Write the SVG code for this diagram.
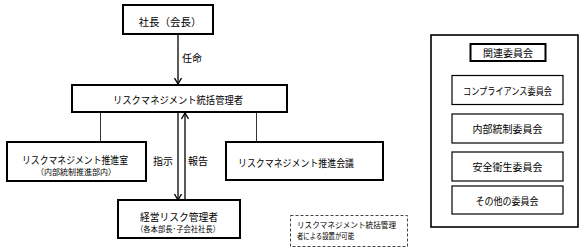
<svg xmlns="http://www.w3.org/2000/svg" width="588" height="250" viewBox="0 0 588 250">
<defs>
<style>
text{font-family:"Noto Sans CJK JP","Noto Sans",sans-serif;fill:#000;text-anchor:middle;dominant-baseline:central;}
.t{font-size:10px;}
.s{font-size:8px;}
.box{fill:#fff;stroke:#000;stroke-width:2;}
.thin{fill:#fff;stroke:#000;stroke-width:1.2;}
.dash{fill:#fff;stroke:#444;stroke-width:1;stroke-dasharray:3,2;}
.ln{stroke:#333;stroke-width:1;fill:none;}
.ar{stroke:#000;stroke-width:1.3;fill:none;marker-end:url(#arr);}
</style>
<marker id="arr" markerUnits="userSpaceOnUse" viewBox="0 0 7 8" refX="6.5" refY="4" markerWidth="7" markerHeight="8" orient="auto">
<path d="M0.5,0.5 L6.5,4 L0.5,7.5" fill="none" stroke="#000" stroke-width="1.3"/>
</marker>
</defs>
<rect width="588" height="250" fill="#fff"/>
<g id="connectors">
<line class="ln" x1="100.5" y1="112" x2="100.5" y2="142"/>
<line class="ln" x1="256.5" y1="112" x2="256.5" y2="142"/>
<line class="ar" x1="178" y1="34" x2="178" y2="84"/>
<line class="ar" x1="178" y1="113" x2="178" y2="200"/>
<line class="ar" x1="185" y1="200" x2="185" y2="113"/>
<text class="t" x="192" y="57">任命</text>
<text class="t" x="163" y="160">指示</text>
<text class="t" x="198" y="160">報告</text>
</g>
<g id="president">
<rect class="box" x="123" y="5" width="90" height="29"/>
<text class="t" x="170" y="21" style="font-size:10.5px">社長（会長）</text>
</g>
<g id="rm-general-manager">
<rect class="box" x="72" y="85" width="215" height="27"/>
<text class="t" x="178" y="99" textLength="130" lengthAdjust="spacingAndGlyphs">リスクマネジメント統括管理者</text>
</g>
<g id="rm-office">
<rect class="box" x="7" y="142" width="139" height="39"/>
<text class="t" x="75" y="159" textLength="106" lengthAdjust="spacingAndGlyphs">リスクマネジメント推進室</text>
<text class="s" x="76" y="171">（内部統制推進部内）</text>
</g>
<g id="rm-council">
<rect class="box" x="226" y="142" width="157" height="38"/>
<text class="t" x="296" y="162" textLength="116" lengthAdjust="spacingAndGlyphs">リスクマネジメント推進会議</text>
</g>
<g id="risk-managers">
<rect class="box" x="118" y="200" width="122" height="38"/>
<text class="t" x="179" y="216" textLength="78" lengthAdjust="spacingAndGlyphs">経営リスク管理者</text>
<text class="s" x="178" y="228" textLength="84" lengthAdjust="spacingAndGlyphs">（各本部長･子会社社長）</text>
</g>
<g id="note">
<rect class="dash" x="290.5" y="215.5" width="117" height="31"/>
<text class="s" x="297" y="224" style="text-anchor:start" textLength="99" lengthAdjust="spacingAndGlyphs">リスクマネジメント統括管理</text>
<text class="s" x="297" y="235" style="text-anchor:start" textLength="57" lengthAdjust="spacingAndGlyphs">者による設置が可能</text>
</g>
<g id="committees">
<rect class="box" x="431" y="35" width="147" height="192" style="stroke-width:1.6"/>
</g>
<g id="committees-title">
<rect class="box" x="470.5" y="44" width="75" height="17"/>
<text class="t" x="508" y="52.5">関連委員会</text>
</g>
<g id="compliance">
<rect class="thin" x="452" y="75.5" width="111" height="29"/>
<text class="t" x="507.5" y="90.5" textLength="89" lengthAdjust="spacingAndGlyphs">コンプライアンス委員会</text>
</g>
<g id="internal-control">
<rect class="thin" x="452" y="114" width="111" height="29"/>
<text class="t" x="507.5" y="128.5">内部統制委員会</text>
</g>
<g id="safety-health">
<rect class="thin" x="452" y="152" width="111" height="29"/>
<text class="t" x="507.5" y="166.5">安全衛生委員会</text>
</g>
<g id="other-committees">
<rect class="thin" x="452" y="186" width="111" height="28"/>
<text class="t" x="507" y="200" textLength="63" lengthAdjust="spacingAndGlyphs">その他の委員会</text>
</g>
</svg>
